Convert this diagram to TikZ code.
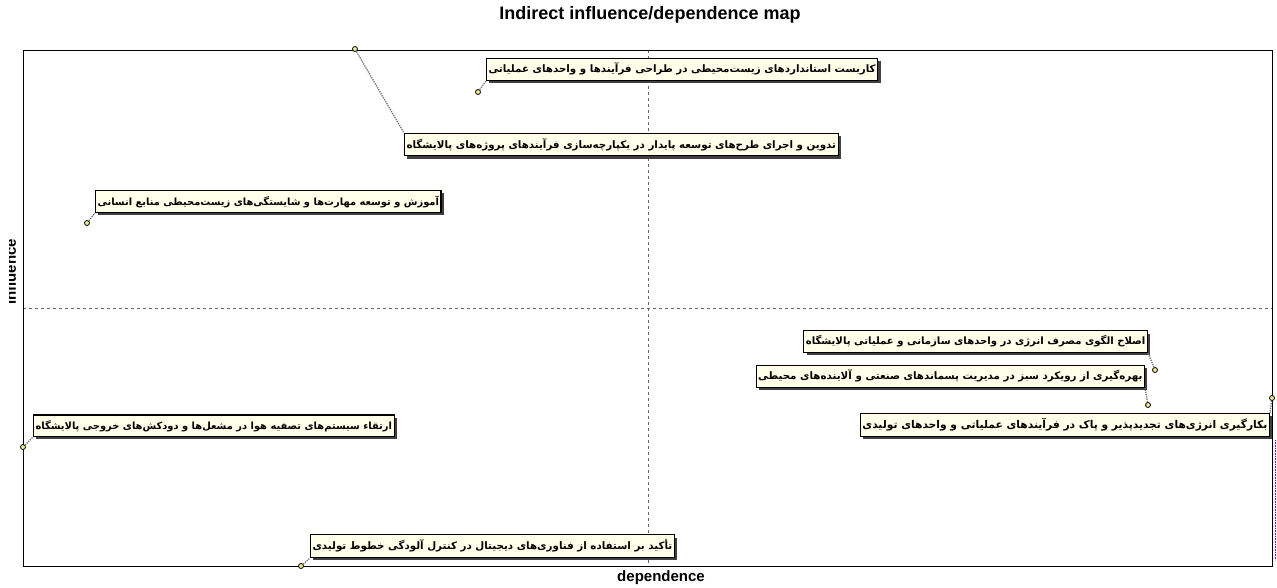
\documentclass[tikz,border=0pt]{standalone}
\usepackage{fontspec}
\setmainfont{Liberation Sans}
\newfontfamily\farsi[Script=Arabic]{DejaVu Sans}
\TeXXeTstate=1
\usetikzlibrary{shadows}
\definecolor{boxfill}{RGB}{255,255,234}
\definecolor{ptfill}{RGB}{238,236,150}
\newcommand{\fa}[1]{{\farsi\bfseries\beginR #1\endR}}

\begin{document}
\begin{tikzpicture}[x=1pt, y=-1pt,
		lbl/.style={draw, line width=1.1pt, fill=boxfill, inner xsep=2pt, inner ysep=5pt, font=\fontsize{10.3}{12}\selectfont, drop shadow={shadow xshift=2.8pt, shadow yshift=-2.8pt, fill=black!75, opacity=1}},
		pt/.style={circle, draw, line width=0.8pt, fill=ptfill, inner sep=0pt, minimum size=5pt},
		lead/.style={densely dotted, black!55, line width=1.3pt},
		frame/.style={line width=0.8pt},
		mid/.style={dashed, black!60, line width=0.5pt}]
			\useasboundingbox (0,0) rectangle (1277,587);
			\node[font=\bfseries\fontsize{18}{21}\selectfont] (title) at (650,15) {Indirect influence/dependence map};
			\draw[mid] (648,50) -- (648,566);
			\draw[mid] (23,308) -- (1272,308);
			\draw[frame] (23,50) rectangle (1272,566);
			\draw[densely dotted, blue!50!red, line width=0.6pt] (1275,440) -- (1275,560);
			\node[font=\bfseries\fontsize{15}{17}\selectfont] (xlab) at (661,578) {dependence};
			\begin{scope}
				\clip (9,200) rectangle (22,340);
				\node[rotate=90, anchor=base, font=\bfseries\fontsize{15}{17}\selectfont] (ylab) at (16,272) {influence};
			\end{scope}
			\node[pt] (p1) at (478,92) {};
			\node[pt] (p2) at (355,49) {};
			\node[pt] (p3) at (87,223) {};
			\node[pt] (p4) at (23,447) {};
			\node[pt] (p5) at (301,566) {};
			\node[pt] (pa) at (1155,370) {};
			\node[pt] (pb) at (1148,405) {};
			\node[pt] (pc) at (1272,398) {};
			\node[lbl, anchor=south west] (b1) at (486,81) {\fa{کاربست استانداردهای زیست‌محیطی در طراحی فرآیندها و واحدهای عملیاتی}};
			\node[lbl, anchor=north west] (b2) at (404,133) {\fa{تدوین و اجرای طرح‌های توسعه پایدار در یکپارچه‌سازی فرآیندهای پروژه‌های پالایشگاه}};
			\node[lbl, anchor=south west, font=\fontsize{9.9}{12}\selectfont] (b3) at (95,213) {\fa{آموزش و توسعه مهارت‌ها و شایستگی‌های زیست‌محیطی منابع انسانی}};
			\node[lbl, anchor=south west, font=\fontsize{9.9}{12}\selectfont] (b4) at (33,437) {\fa{ارتقاء سیستم‌های تصفیه هوا در مشعل‌ها و دودکش‌های خروجی پالایشگاه}};
			\node[lbl, anchor=south west] (b5) at (310,558) {\fa{تأکید بر استفاده از فناوری‌های دیجیتال در کنترل آلودگی خطوط تولیدی}};
			\node[lbl, anchor=south east, font=\fontsize{10.1}{12}\selectfont] (ba) at (1148,353) {\fa{اصلاح الگوی مصرف انرژی در واحدهای سازمانی و عملیاتی پالایشگاه}};
			\node[lbl, anchor=south east] (bb) at (1145,388) {\fa{بهره‌گیری از رویکرد سبز در مدیریت پسماندهای صنعتی و آلاینده‌های محیطی}};
			\node[lbl, anchor=north east, font=\fontsize{10.7}{12}\selectfont] (bc) at (1270,413) {\fa{بکارگیری انرژی‌های تجدیدپذیر و پاک در فرآیندهای عملیاتی و واحدهای تولیدی}};
			\draw[lead] (p1) -- (b1.south west);
			\draw[lead] (p2) -- (b2.north west);
			\draw[lead] (p3) -- (b3.south west);
			\draw[lead] (p4) -- (b4.south west);
			\draw[lead] (p5) -- (b5.south west);
			\draw[lead] (pa) -- (ba.south east);
			\draw[lead] (pb) -- (bb.south east);
			\draw[lead] (pc) -- (bc.north east);
		\end{tikzpicture}
\end{document}
